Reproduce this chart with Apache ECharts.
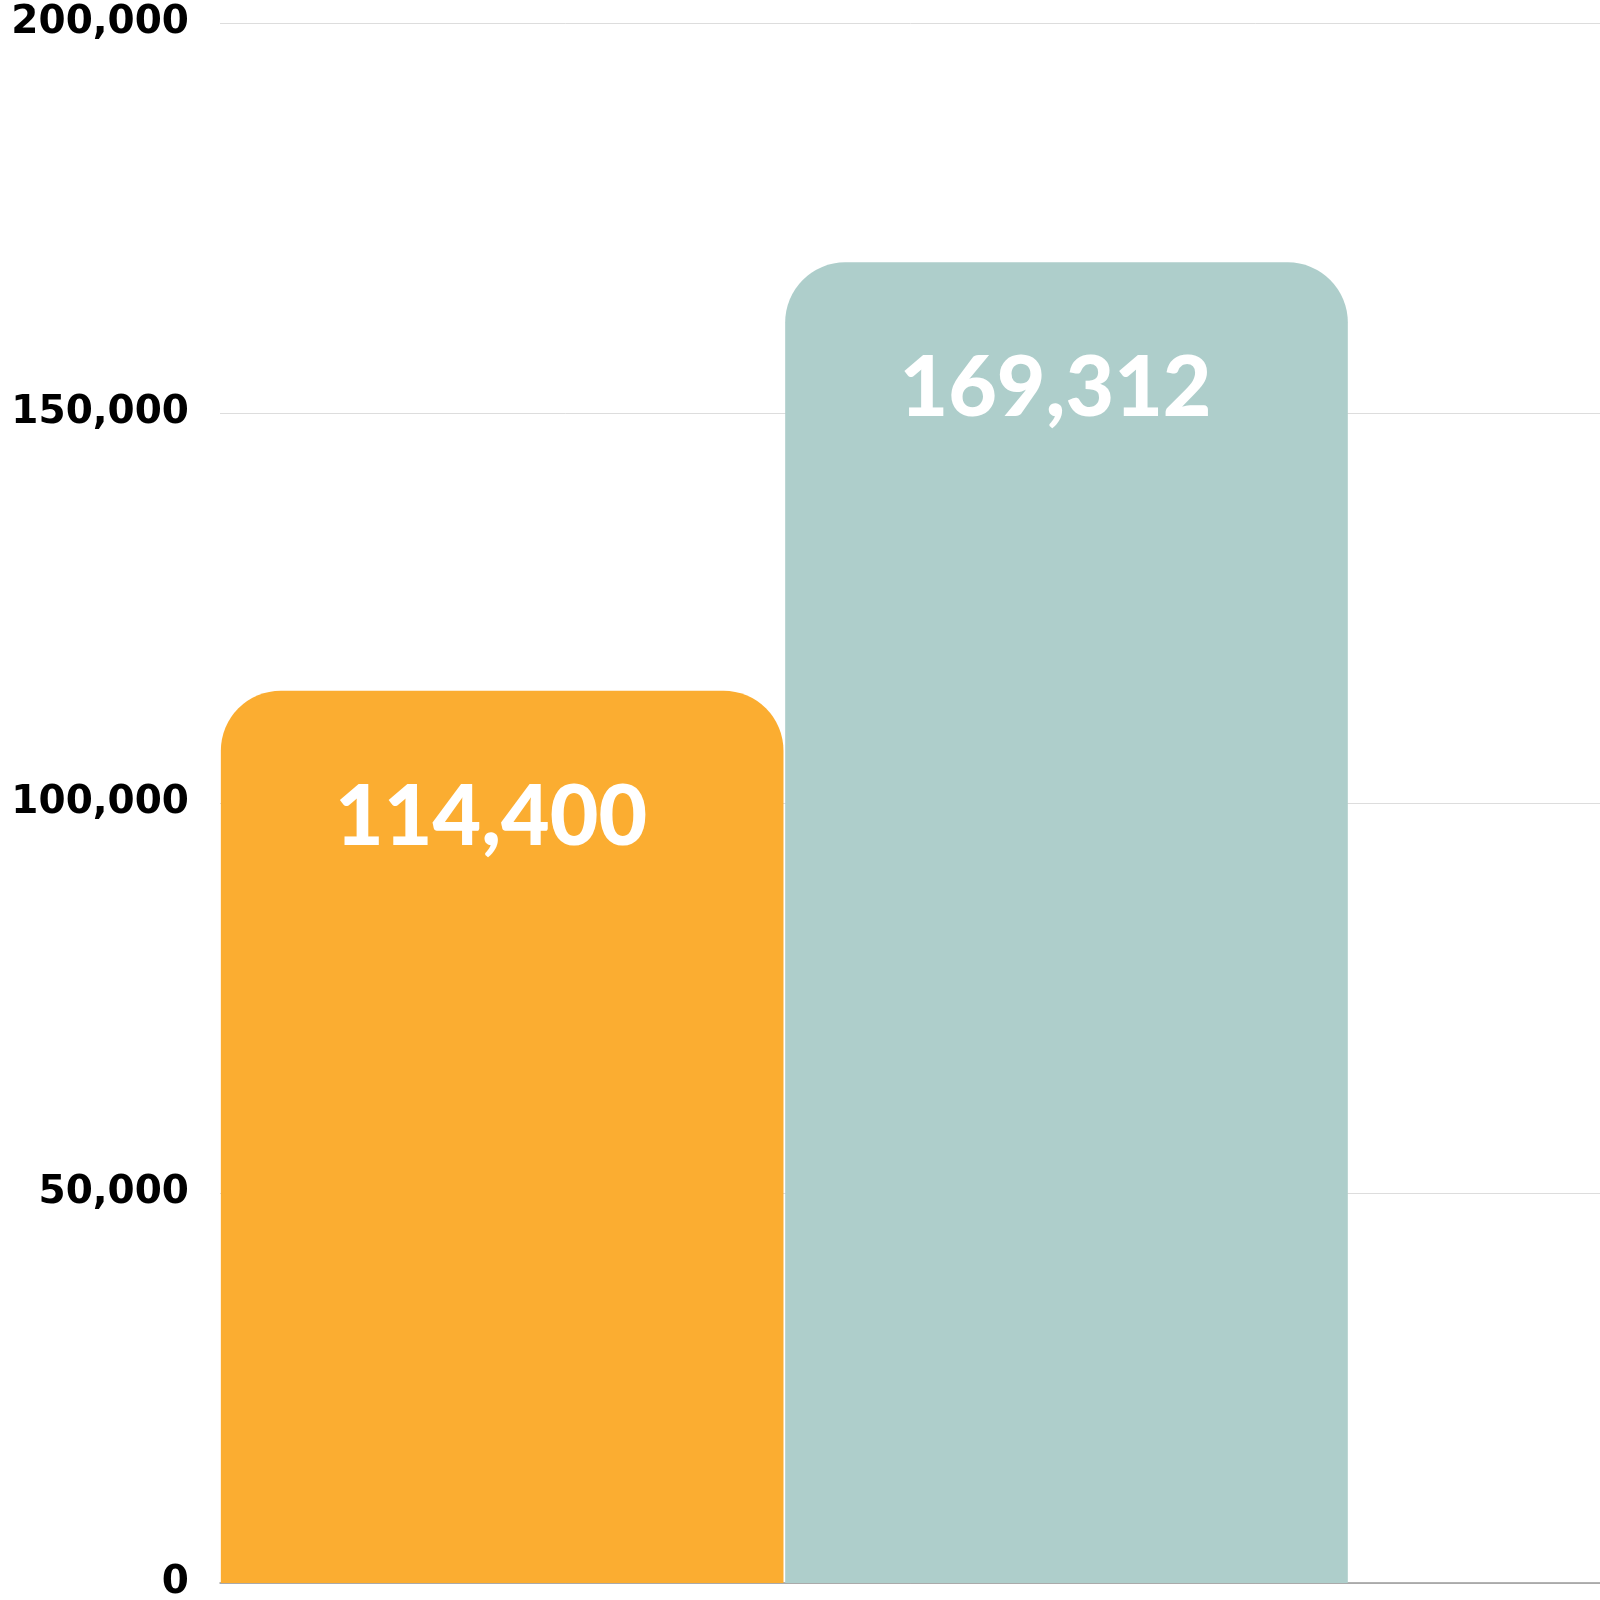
<!DOCTYPE html>
<html>
<head>
<meta charset="utf-8">
<script src="https://cdn.jsdelivr.net/npm/echarts@6/dist/echarts.min.js"></script>
<style>
html,body{margin:0;padding:0;background:#fff;}
#chart{width:1600px;height:1600px;}
</style>
</head>
<body>
<div id="chart"></div>
<script>
const categories = ['A', 'B', ''];
const values = [114400, 169312, null];
const barColors = ['#FBAD31', '#AECECB', '#FFFFFF'];
const yTicks = [0, 50000, 100000, 150000, 200000];

const fmt = v => v.toLocaleString('en-US');

const chart = echarts.init(document.getElementById('chart'));
chart.setOption({
  animation: false,
  backgroundColor: '#ffffff',
  grid: { left: 220, top: 23, bottom: 17, width: 1693, containLabel: false, outerBoundsMode: 'none' },
  xAxis: {
    type: 'category',
    data: categories,
    axisTick: { show: false },
    axisLabel: { show: false },
    axisLine: { show: true, lineStyle: { color: '#999999', width: 1.5 } },
    splitLine: { show: false }
  },
  yAxis: {
    type: 'value',
    min: yTicks[0],
    max: yTicks[yTicks.length - 1],
    interval: yTicks[1] - yTicks[0],
    axisLine: { show: false },
    axisTick: { show: false },
    splitLine: { show: true, lineStyle: { color: '#dddddd', width: 1 } },
    axisLabel: {
      margin: 31,
      formatter: v => fmt(v),
      fontFamily: 'DejaVu Sans',
      fontWeight: 'bold',
      fontSize: 39,
      color: '#000000',
      verticalAlign: 'middle',
      padding: [0, 0, 24, 0]
    }
  },
  series: [{
    type: 'bar',
    data: values.map((v, i) => ({ value: v, itemStyle: { color: barColors[i] } })),
    barCategoryGap: '0.3%',
    itemStyle: { borderRadius: [60, 60, 0, 0] },
    label: {
      show: true,
      position: 'insideTop',
      distance: 85,
      offset: [-11, 0],
      formatter: p => p.value == null ? '' : fmt(p.value),
      color: '#ffffff',
      fontFamily: 'Lato',
      fontWeight: 900,
      fontSize: 84
    }
  }]
});
</script>
</body>
</html>
